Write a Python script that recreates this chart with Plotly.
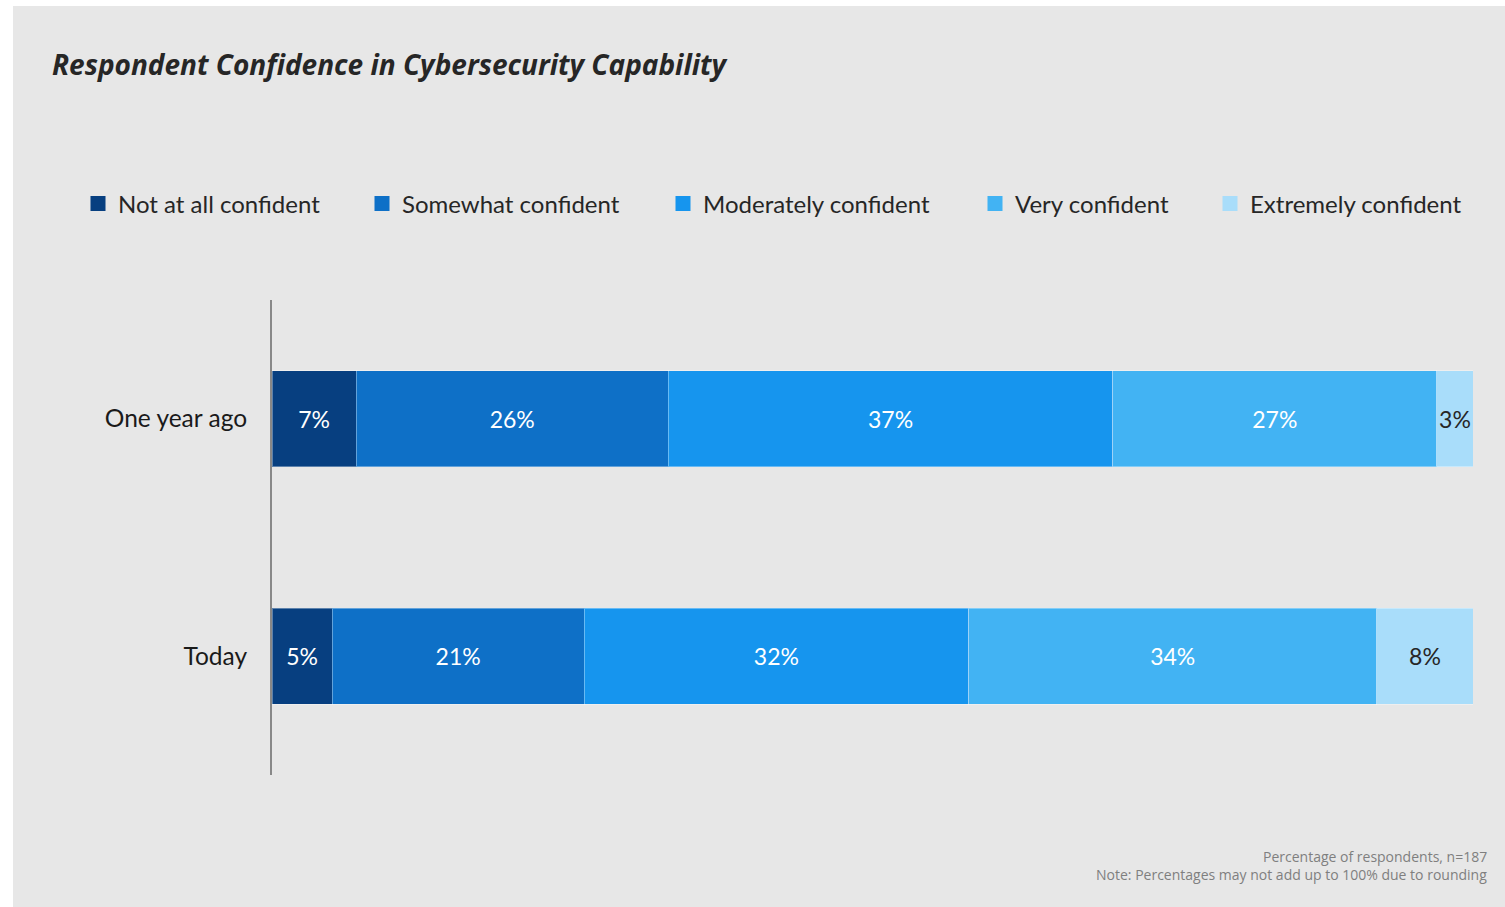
import plotly.graph_objects as go

# Survey periods shown as rows
periods = ["One year ago", "Today"]

# Share of respondents per confidence level (percent)
not_at_all = [7, 5]
somewhat = [26, 21]
moderately = [37, 32]
very = [27, 34]
extremely = [3, 8]

series_names = [
    "Not at all confident",
    "Somewhat confident",
    "Moderately confident",
    "Very confident",
    "Extremely confident",
]
series_values = [not_at_all, somewhat, moderately, very, extremely]
series_colors = ["#073F80", "#0E70C7", "#1695EE", "#42B3F3", "#A9DDFA"]
label_colors = ["#FFFFFF", "#FFFFFF", "#FFFFFF", "#FFFFFF", "#262626"]

W, H = 1505, 907
ML, MR, MT, MB = 272, 32, 300, 132
PW = W - ML - MR
PH = H - MT - MB


def px_x(x):
    return (x - ML) / PW


def px_y(y):
    return (H - MB - y) / PH


# left edge of each legend swatch along the top row (one legend per series)
legend_left = [90, 374, 675, 987, 1222]

fig = go.Figure()
for i, (name, vals, col, lc) in enumerate(zip(series_names, series_values, series_colors, label_colors)):
    key = "legend" if i == 0 else f"legend{i + 1}"
    fig.add_trace(go.Bar(
        y=periods,
        x=vals,
        name=name,
        orientation="h",
        marker=dict(color=col, line=dict(color="rgba(255,255,255,0.35)", width=1)),
        text=[f"{v}%" for v in vals],
        textposition="inside",
        insidetextanchor="middle",
        textangle=0,
        insidetextfont=dict(color=lc, size=23, family="Lato"),
        showlegend=False,
        hoverinfo="skip",
    ))
    # square swatch for the legend entry
    fig.add_trace(go.Scatter(
        x=[None],
        y=[None],
        name=name,
        mode="markers",
        marker=dict(symbol="square", size=15, color=col),
        legend=key,
        showlegend=True,
        hoverinfo="skip",
    ))

legend_common = dict(
    orientation="h",
    xanchor="left",
    yanchor="middle",
    bgcolor="rgba(0,0,0,0)",
    font=dict(family="Lato", size=24, color="#262626"),
    itemclick=False,
    itemdoubleclick=False,
)
layout_legends = {}
for i, lx in enumerate(legend_left):
    key = "legend" if i == 0 else f"legend{i + 1}"
    layout_legends[key] = dict(legend_common, x=px_x(lx - 12), y=px_y(204))

fig.update_layout(
    width=W,
    height=H,
    margin=dict(l=ML, r=MR, t=MT, b=MB),
    barmode="stack",
    bargap=0.595,
    paper_bgcolor="#FFFFFF",
    plot_bgcolor="rgba(0,0,0,0)",
    uniformtext=dict(minsize=23, mode="show"),
    title=dict(
        text="<b><i>Respondent Confidence in Cybersecurity Capability</i></b>",
        font=dict(family="Open Sans", size=28, color="#262626"),
        x=52 / W,
        xanchor="left",
        xref="container",
        y=1 - 65 / H,
        yanchor="middle",
        yref="container",
    ),
    xaxis=dict(range=[0, 100], visible=False, fixedrange=True),
    yaxis=dict(
        autorange="reversed",
        showline=True,
        linecolor="#888888",
        linewidth=2,
        showgrid=False,
        zeroline=False,
        ticks="",
        ticklabelstandoff=18,
        tickfont=dict(family="Lato", size=24.5, color="#1A1A1A"),
        fixedrange=True,
    ),
    shapes=[dict(
        type="rect", xref="paper", yref="paper", layer="below",
        x0=px_x(13), x1=px_x(W), y0=px_y(H), y1=px_y(6),
        fillcolor="#E7E7E7", line=dict(width=0),
    )],
    annotations=[
        dict(
            text="Percentage of respondents, n=187",
            xref="paper", yref="paper", x=px_x(1489), y=px_y(856),
            xanchor="right", yanchor="middle", showarrow=False,
            font=dict(family="Open Sans", size=14, color="#7F7F7F"),
        ),
        dict(
            text="Note: Percentages may not add up to 100% due to rounding",
            xref="paper", yref="paper", x=px_x(1489), y=px_y(874),
            xanchor="right", yanchor="middle", showarrow=False,
            font=dict(family="Open Sans", size=14, color="#7F7F7F"),
        ),
    ],
    **layout_legends,
)

fig.write_html("out.html")
